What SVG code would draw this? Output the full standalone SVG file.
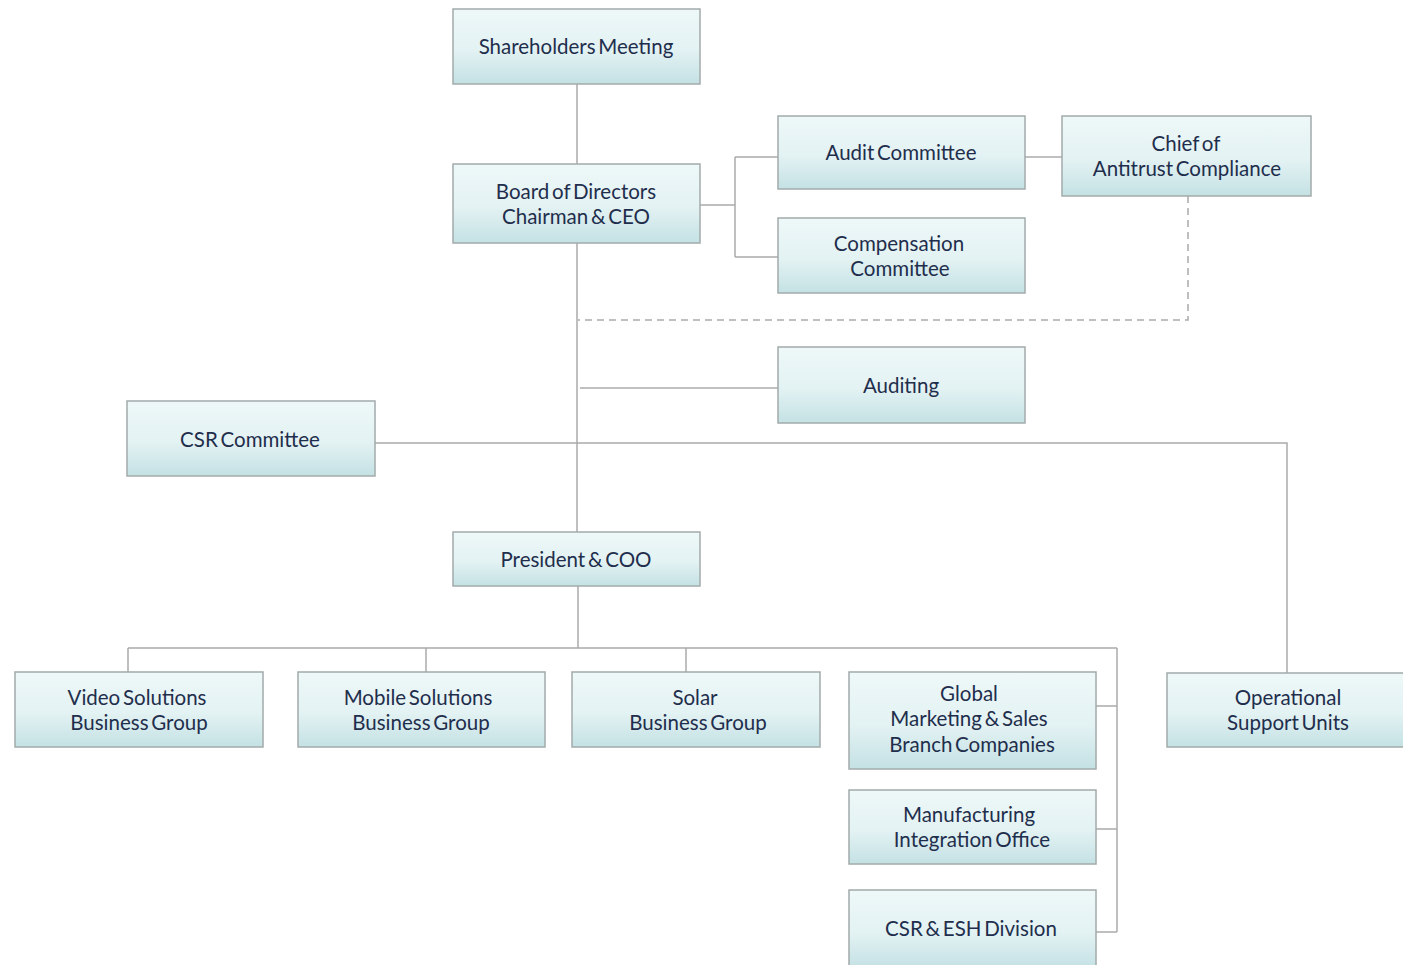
<svg xmlns="http://www.w3.org/2000/svg" width="1403" height="965" viewBox="0 0 1403 965">
<defs>
<linearGradient id="bx" x1="0" y1="0" x2="0" y2="1">
<stop offset="0" stop-color="#eef8f8"/>
<stop offset="0.55" stop-color="#e3f2f3"/>
<stop offset="1" stop-color="#c4e1e4"/>
</linearGradient>
</defs>
<style>
.box{fill:url(#bx);stroke:#a3abab;stroke-width:1.5}
.t{font-family:Lato,"Open Sans","Liberation Sans",sans-serif;font-size:20.5px;fill:#1f2e4c;text-anchor:middle;word-spacing:-2.5px}
.c{fill:none;stroke:#ababab;stroke-width:1.5}
.d{fill:none;stroke:#ababab;stroke-width:1.5;stroke-dasharray:7 5}
</style>
<rect width="1403" height="965" fill="#ffffff"/>
<g id="connectors">
<path class="c" d="M577 84V164M577 243V532"/>
<path class="c" d="M700 205H735M735 157V257M735 157H778M735 257H778"/>
<path class="c" d="M1025 157H1062"/>
<path class="d" d="M1188 196V320H578"/>
<path class="c" d="M580 388H778"/>
<path class="c" d="M375 443H1287V673"/>
<path class="c" d="M578 586V648M128 648H1117M128 648V672M426 648V672M686 648V672M1117 648V932M1096 706H1117M1096 829H1117M1096 932H1117"/>
</g>
<g id="shareholders"><rect class="box" x="453" y="9" width="247" height="75"/><text class="t" x="576" y="54">Shareholders Meeting</text></g>
<g id="board"><rect class="box" x="453" y="164" width="247" height="79"/><text class="t" x="576" y="199">Board of Directors</text><text class="t" x="576" y="224">Chairman &amp; CEO</text></g>
<g id="audit-committee"><rect class="box" x="778" y="116" width="247" height="73"/><text class="t" x="901" y="160">Audit Committee</text></g>
<g id="compensation"><rect class="box" x="778" y="218" width="247" height="75"/><text class="t" x="899" y="251">Compensation</text><text class="t" x="900" y="276">Committee</text></g>
<g id="antitrust"><rect class="box" x="1062" y="116" width="249" height="80"/><text class="t" x="1186" y="151">Chief of</text><text class="t" x="1187" y="176">Antitrust Compliance</text></g>
<g id="auditing"><rect class="box" x="778" y="347" width="247" height="76"/><text class="t" x="901" y="393">Auditing</text></g>
<g id="csr-committee"><rect class="box" x="127" y="401" width="248" height="75"/><text class="t" x="250" y="447">CSR Committee</text></g>
<g id="president"><rect class="box" x="453" y="532" width="247" height="54"/><text class="t" x="576" y="567">President &amp; COO</text></g>
<g id="video"><rect class="box" x="15" y="672" width="248" height="75"/><text class="t" x="137" y="705">Video Solutions</text><text class="t" x="139" y="730">Business Group</text></g>
<g id="mobile"><rect class="box" x="298" y="672" width="247" height="75"/><text class="t" x="418" y="705">Mobile Solutions</text><text class="t" x="421" y="730">Business Group</text></g>
<g id="solar"><rect class="box" x="572" y="672" width="248" height="75"/><text class="t" x="695" y="705">Solar</text><text class="t" x="698" y="730">Business Group</text></g>
<g id="global"><rect class="box" x="849" y="672" width="247" height="97"/><text class="t" x="969" y="701">Global</text><text class="t" x="969" y="726">Marketing &amp; Sales</text><text class="t" x="972" y="752">Branch Companies</text></g>
<g id="manufacturing"><rect class="box" x="849" y="790" width="247" height="74"/><text class="t" x="969" y="822">Manufacturing</text><text class="t" x="972" y="847">Integration Office</text></g>
<g id="csr-esh"><rect class="box" x="849" y="890" width="247" height="78"/><text class="t" x="971" y="936">CSR &amp; ESH Division</text></g>
<g id="operational"><rect class="box" x="1167" y="673" width="240" height="74"/><text class="t" x="1288" y="705">Operational</text><text class="t" x="1288" y="730">Support Units</text></g>
</svg>
